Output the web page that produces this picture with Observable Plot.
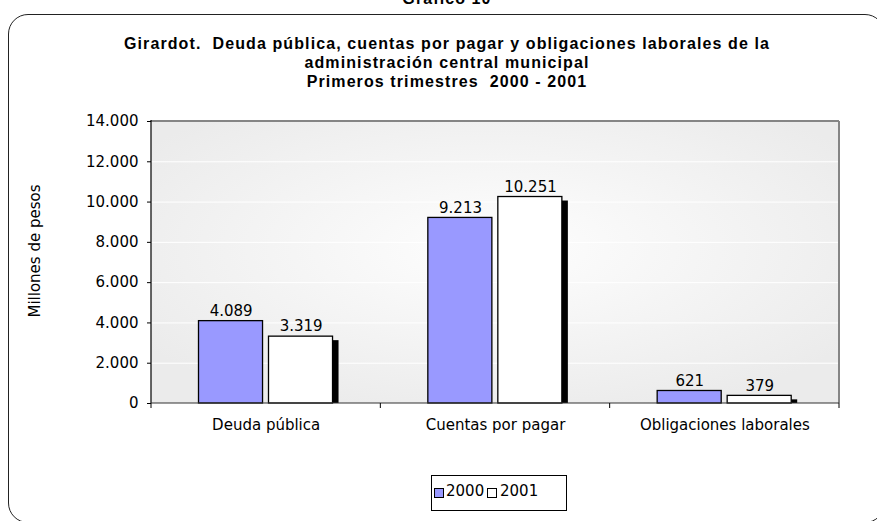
<!DOCTYPE html>
<html>
<head>
<meta charset="utf-8">
<script src="https://cdn.jsdelivr.net/npm/d3@7"></script>
<script src="https://cdn.jsdelivr.net/npm/@observablehq/plot@0.6"></script>
<style>
  html, body { margin: 0; padding: 0; background: #ffffff; }
  #wrap { position: relative; width: 877px; height: 521px; overflow: hidden; background: #fff; }
  #box { position: absolute; left: 8px; top: 14px; width: 877px; height: 509px; box-sizing: border-box;
         border: 1.6px solid #222; border-radius: 20px; }
  .title { position: absolute; left: 0; width: 894px; text-align: center; white-space: pre;
           font-family: "Liberation Sans", Arial, Helvetica, sans-serif; font-weight: bold; font-size: 16px;
           line-height: 19px; letter-spacing: 1.1px; color: #000; }
  #chart { position: absolute; left: 0; top: 0; }
  #ylabel { position: absolute; left: 35px; top: 251px; transform: translate(-50%, -50%) rotate(-90deg);
            white-space: nowrap; font-family: "DejaVu Sans", sans-serif; font-size: 15px; color: #000; }
  #legend { position: absolute; left: 431px; top: 475px; width: 136px; height: 36px; box-sizing: border-box;
            border: 1px solid #000; background: #fff; }
  .sw { position: absolute; width: 10px; height: 10px; box-sizing: border-box; border: 1px solid #000; }
  .lt { position: absolute; font-family: "DejaVu Sans", sans-serif; font-size: 15px; line-height: 15px; color: #000; }
</style>
</head>
<body>
<div id="wrap">
  <div id="box"></div>
  <div id="chart"></div>
  <div class="title" style="top:-11px">Gráfico 10</div>
  <div class="title" style="top:34px" id="t1"></div>
  <div id="ylabel"></div>
  <div id="legend"></div>
</div>
<script>
// ---- data ----
const categories = ["Deuda pública", "Cuentas por pagar", "Obligaciones laborales"];
const years = ["2000", "2001"];
const values2000 = [4089, 9213, 621];
const values2001 = [3319, 10251, 379];
const yTicks = [0, 2000, 4000, 6000, 8000, 10000, 12000, 14000];
const yMax = 14000;
const titleLines = [
  "Girardot.  Deuda pública, cuentas por pagar y obligaciones laborales de la",
  "administración central municipal",
  "Primeros trimestres  2000 - 2001"
];
const yLabel = "Millones de pesos";
const seriesColors = ["#9999ff", "#ffffff"];

const rows = categories.map((c, i) => ({cat: c, v2000: values2000[i], v2001: values2001[i]}));
const fmt = d3.formatLocale({decimal: ",", thousands: ".", grouping: [3], currency: ["$", ""]}).format(",d");

document.getElementById("t1").textContent = titleLines.join("\n");
document.getElementById("ylabel").textContent = yLabel;

// legend
const leg = document.getElementById("legend");
const legPos = [{sw: 2, tx: 14}, {sw: 55, tx: 68}];
years.forEach((yr, i) => {
  const s = document.createElement("div");
  s.className = "sw";
  s.style.left = legPos[i].sw + "px";
  s.style.top = "12px";
  s.style.background = seriesColors[i];
  leg.appendChild(s);
  const t = document.createElement("div");
  t.className = "lt";
  t.style.left = legPos[i].tx + "px";
  t.style.top = "8px";
  t.textContent = yr;
  leg.appendChild(t);
});

// background panel with gradient
function panel(index, scales) {
  const x = scales.x, y = scales.y, cats = x.domain();
  const x0 = x(cats[0]), x1 = x(cats[cats.length - 1]) + x.bandwidth();
  const y0 = y(yMax), y1 = y(0);
  const g = d3.create("svg:g");
  const grad = g.append("defs").append("radialGradient")
    .attr("id", "plotBg").attr("cx", "50%").attr("cy", "45%").attr("r", "62%");
  grad.append("stop").attr("offset", "0%").attr("stop-color", "#fefefe");
  grad.append("stop").attr("offset", "100%").attr("stop-color", "#ebebeb");
  g.append("rect").attr("x", x0).attr("y", y0).attr("width", x1 - x0).attr("height", y1 - y0)
    .attr("fill", "url(#plotBg)");
  return g.node();
}

// frame lines and category separators
function chrome(index, scales) {
  const x = scales.x, y = scales.y, cats = x.domain();
  const x0 = x(cats[0]), x1 = x(cats[cats.length - 1]) + x.bandwidth();
  const y0 = y(yMax), y1 = y(0);
  const g = d3.create("svg:g").attr("fill", "none");
  g.append("line").attr("x1", x0).attr("x2", x1).attr("y1", y0).attr("y2", y0)
    .attr("stroke", "#858585").attr("stroke-width", 2);
  g.append("line").attr("x1", x1).attr("x2", x1).attr("y1", y0).attr("y2", y1)
    .attr("stroke", "#858585").attr("stroke-width", 2);
  g.append("line").attr("x1", x0).attr("x2", x0).attr("y1", y0 - 1).attr("y2", y1)
    .attr("stroke", "#000").attr("stroke-width", 1.2);
  g.append("line").attr("x1", x0).attr("x2", x1).attr("y1", y1).attr("y2", y1)
    .attr("stroke", "#333").attr("stroke-width", 1.2);
  const edges = cats.map(c => x(c)).concat([x1]);
  edges.forEach(e => {
    g.append("line").attr("x1", e).attr("x2", e).attr("y1", y1).attr("y2", y1 + 5)
      .attr("stroke", "#000").attr("stroke-width", 1);
  });
  return g.node();
}

const textFont = {fontFamily: "DejaVu Sans", fontSize: 15, fill: "#000"};

const chart = Plot.plot({
  width: 877,
  height: 521,
  marginTop: 121,
  marginRight: 38,
  marginBottom: 118,
  marginLeft: 151,
  style: {background: "transparent", fontFamily: "DejaVu Sans", fontSize: "15px", color: "#000", overflow: "visible"},
  x: {domain: categories, padding: 0, round: false, label: null},
  y: {domain: [0, yMax], label: null},
  marks: [
    panel,
    Plot.gridY(yTicks, {stroke: "#ffffff", strokeOpacity: 1, strokeWidth: 1}),
    Plot.barY(rows, {x: "cat", y: "v2000", fill: seriesColors[0], stroke: "#000", strokeWidth: 1.3,
                     insetLeft: 47.5, insetRight: 117.8}),
    Plot.barY(rows, {x: "cat", y: "v2001", fill: "#000", insetLeft: 123.5, insetRight: 41.8, insetTop: 4}),
    Plot.barY(rows, {x: "cat", y: "v2001", fill: seriesColors[1], stroke: "#000", strokeWidth: 1.3,
                     insetLeft: 117.5, insetRight: 47.8}),
    Plot.text(rows, {x: "cat", y: "v2000", text: d => fmt(d.v2000), dx: -35, dy: -10, ...textFont}),
    Plot.text(rows, {x: "cat", y: "v2001", text: d => fmt(d.v2001), dx: 35, dy: -10, ...textFont}),
    chrome,
    Plot.axisY({ticks: yTicks, tickFormat: fmt, tickSize: 4, tickPadding: 9, fontSize: 15, label: null}),
    Plot.axisX({tickSize: 0, tickPadding: 16, fontSize: 15, label: null})
  ]
});
document.getElementById("chart").appendChild(chart);
</script>
</body>
</html>
